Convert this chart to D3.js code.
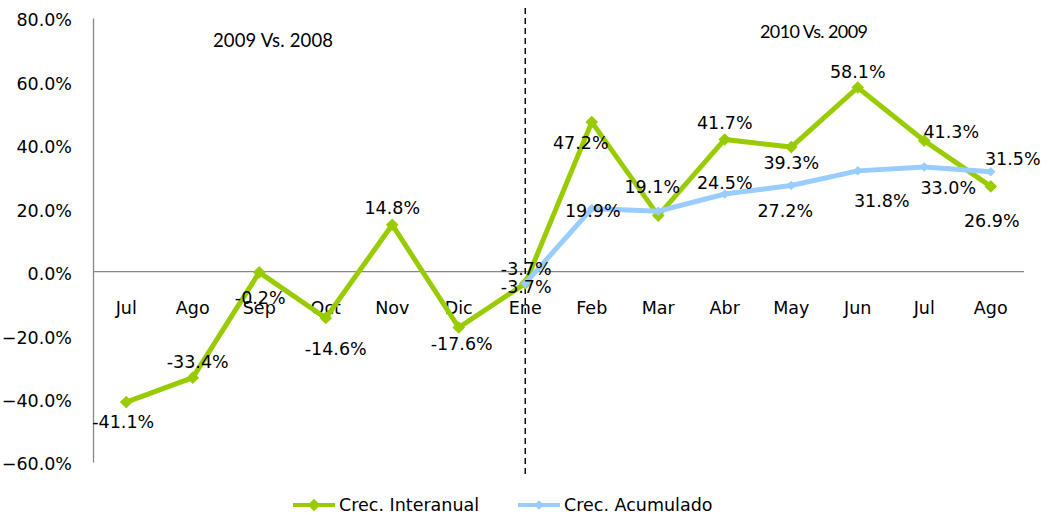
<!DOCTYPE html>
<html><head><meta charset="utf-8">
<script src="https://cdn.jsdelivr.net/npm/d3@7"></script>
<style>body{margin:0;background:#fff}svg{display:block}</style>
</head><body><svg id="c" width="1047" height="520"></svg>
<script>
const categories = ["Jul","Ago","Sep","Oct","Nov","Dic","Ene","Feb","Mar","Abr","May","Jun","Jul","Ago"];
const interanual = [-41.1,-33.4,-0.2,-14.6,14.8,-17.6,-3.7,47.2,17.7,41.7,39.3,58.1,41.3,26.9];
const interanualLabels = ["-41.1%","-33.4%","-0.2%","-14.6%","14.8%","-17.6%","-3.7%","47.2%",null,"41.7%","39.3%","58.1%","41.3%","26.9%"];
const acumulado = [null,null,null,null,null,null,-3.7,19.9,19.1,24.5,27.2,31.8,33.0,31.5];
const acumuladoLabels = [null,null,null,null,null,null,"-3.7%","19.9%","19.1%","24.5%","27.2%","31.8%","33.0%","31.5%"];
const yTicks = [-60,-40,-20,0,20,40,60,80];
const seriesNames = ["Crec. Interanual","Crec. Acumulado"];
const annotations = ["2009 Vs. 2008","2010 Vs. 2009"];

// label offsets (layout) [dx, dy of text centre]
const offInter = [[-3,20],[5,-16],[1,25],[10,31],[0,-17],[3,16],[1,-15],[-11,21],null,[0,-17],[0,16],[0,-16],[27,-9],[1,34]];
const offAcum = [null,null,null,null,null,null,[1,3],[1,2],[-6,-24],[0,-11],[-6,25],[24,30],[24,21],[22,-13]];

const svg = d3.select("#c");
const green = "#99cc00", blue = "#99ccff";
const font = "DejaVu Sans";
const fs = 17.5;

const x = d3.scaleBand().domain(d3.range(categories.length)).range([93,1024]);
const y = d3.scaleLinear().domain([-60,80]).range([462,18]);
const cx = i => x(i) + x.bandwidth()/2;

// y axis
const yAxis = d3.axisLeft(y).tickValues(yTicks).tickSize(0).tickPadding(21)
  .tickFormat(d => d3.format(".1f")(d) + "%");
const ga = svg.append("g").attr("transform","translate(93,0)").call(yAxis);
ga.select(".domain").attr("stroke","#888").attr("stroke-width",1.3);
ga.selectAll("text").attr("font-family",font).attr("font-size",fs).attr("fill","#000").attr("dy","0.45em");

// zero line
svg.append("line").attr("x1",93).attr("x2",1024).attr("y1",y(0)).attr("y2",y(0))
  .attr("stroke","#888").attr("stroke-width",1.3);

// category labels
svg.append("g").selectAll("text").data(categories).join("text")
  .attr("x",(d,i)=>cx(i)).attr("y",y(0)+42).attr("text-anchor","middle")
  .attr("font-family",font).attr("font-size",fs).text(d=>d);

// divider
svg.append("line").attr("x1",cx(6)).attr("x2",cx(6)).attr("y1",8).attr("y2",478)
  .attr("stroke","#000").attr("stroke-width",1.4).attr("stroke-dasharray","6,4");

// annotations
svg.append("text").attr("x",273).attr("y",47).attr("text-anchor","middle")
  .attr("font-family","Lato").attr("font-size",18.5).attr("textLength",120).text(annotations[0]);
svg.append("text").attr("x",814).attr("y",38).attr("text-anchor","middle")
  .attr("font-family","Lato").attr("font-size",18).attr("textLength",108).text(annotations[1]);

function drawSeries(vals, color, w, msize) {
  const pts = vals.map((v,i)=>({v,i})).filter(d=>d.v!==null);
  svg.append("path").datum(pts)
    .attr("d", d3.line().x(d=>cx(d.i)).y(d=>y(d.v)))
    .attr("fill","none").attr("stroke",color).attr("stroke-width",w).attr("stroke-linejoin","miter");
  svg.append("g").selectAll("path").data(pts).join("path")
    .attr("transform",d=>`translate(${cx(d.i)},${y(d.v)}) rotate(45)`)
    .attr("d", d3.symbol().type(d3.symbolSquare).size(msize)).attr("fill",color);
}
drawSeries(interanual, green, 5, 80);
drawSeries(acumulado, blue, 5, 45);

function drawLabels(vals, labels, offs) {
  svg.append("g").selectAll("text").data(vals.map((v,i)=>({v,i,l:labels[i],o:offs[i]})).filter(d=>d.l))
    .join("text")
    .attr("x",d=>cx(d.i)+d.o[0]).attr("y",d=>y(d.v)+d.o[1]).attr("dy","0.36em")
    .attr("text-anchor","middle").attr("font-family",font).attr("font-size",fs).attr("fill","#000")
    .text(d=>d.l);
}
drawLabels(interanual, interanualLabels, offInter);
drawLabels(acumulado, acumuladoLabels, offAcum);

// legend
const legend = [{name:seriesNames[0],color:green,x:293,ms:80},{name:seriesNames[1],color:blue,x:518,ms:45}];
const lg = svg.append("g").selectAll("g").data(legend).join("g").attr("transform",d=>`translate(${d.x},505)`);
lg.append("line").attr("x1",0).attr("x2",42).attr("stroke",d=>d.color).attr("stroke-width",4);
lg.append("path").attr("transform","translate(21,0) rotate(45)").attr("d",d=>d3.symbol().type(d3.symbolSquare).size(d.ms)()).attr("fill",d=>d.color);
lg.append("text").attr("x",46).attr("dy","0.36em").attr("font-family",font).attr("font-size",fs).text(d=>d.name);
</script></body></html>
